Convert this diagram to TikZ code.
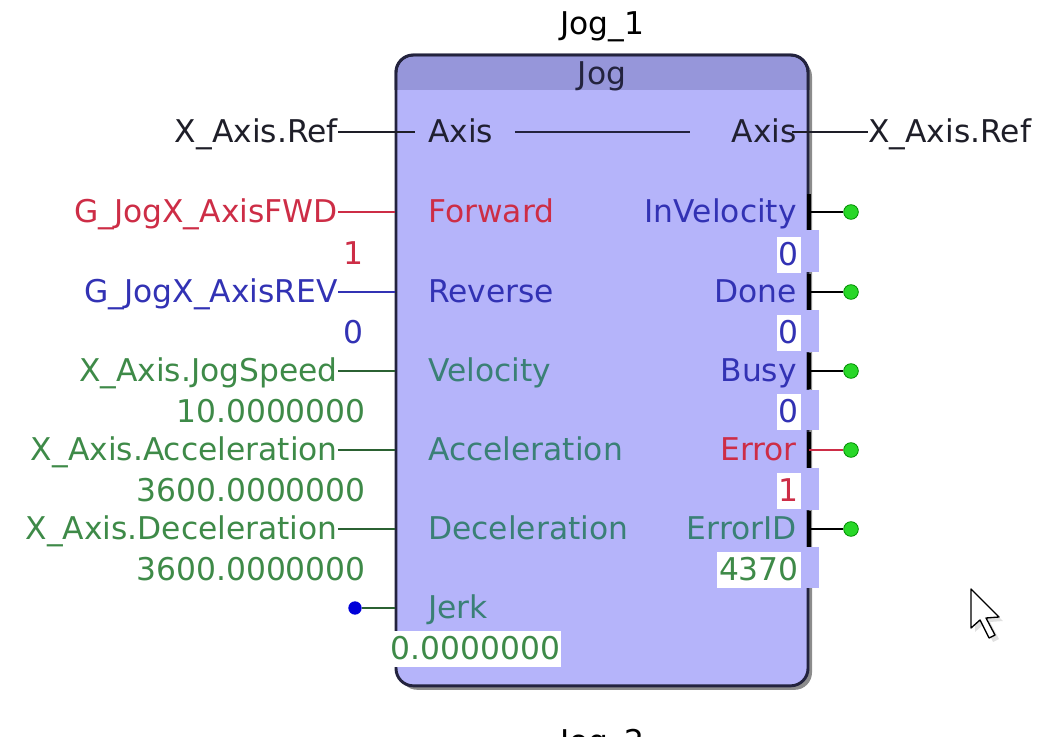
\documentclass[tikz,border=0pt]{standalone}
\usepackage{fontspec}
\setmainfont{DejaVu Sans}
\usetikzlibrary{shadows}
\definecolor{body}{RGB}{181,180,250}
\definecolor{hdr}{RGB}{150,150,218}
\definecolor{frame}{RGB}{35,35,62}
\definecolor{tred}{RGB}{205,45,70}
\definecolor{tblue}{RGB}{50,50,180}
\definecolor{tgreen}{RGB}{62,138,72}
\definecolor{tteal}{RGB}{58,128,118}
\definecolor{tblack}{RGB}{30,30,40}
\definecolor{dotgreen}{RGB}{40,215,40}
\begin{document}
\begin{tikzpicture}[x=0.75pt,y=-0.75pt,
  every node/.style={inner sep=0pt, text height=21pt, text depth=5.6pt,
    font=\fontsize{23.5}{28}\selectfont},
  blockbox/.style={draw=frame, line width=2.2pt, fill=body, rounded corners=13pt,
    minimum width=309pt, minimum height=473pt,
    drop shadow={shadow xshift=3pt, shadow yshift=-3pt, opacity=0.45, fill=black}},
  lblL/.style={anchor=east},
  lblR/.style={anchor=west},
  valbox/.style={anchor=east, fill=white, inner xsep=1.5pt},
  gdot/.style={circle, fill=dotgreen, draw=green!55!black, line width=0.6pt,
    minimum size=11pt, text height=0pt, text depth=0pt, font=\tiny},
  bdot/.style={circle, fill=blue!85!black, minimum size=10pt, text height=0pt, text depth=0pt, font=\tiny},
  portbar/.style={line width=3pt, draw=black},
  wire/.style={line width=1pt}
]
\useasboundingbox (0,0) rectangle (1064,737);
\clip (0,0) rectangle (1064,737);

% block
\node[blockbox] (blk) at (602,370.5) {};
\fill[hdr] (397.5,90) {[rounded corners=12pt] -- (397.5,56.5) -- (806.5,56.5)} -- (806.5,90) -- cycle;
\draw[frame, line width=2.2pt, rounded corners=13pt] (396,90) -- (396,55) -- (808,55) -- (808,90);

% titles
\node[anchor=base] (t1) at (602,35) {Jog\_1};
\node[anchor=base, text=frame] (thdr) at (602,85) {Jog};
\node[anchor=base] (t2) at (602,752) {Jog\_2};

% gaps in right border
\foreach \a/\b in {230/272, 310/352, 390/430, 468/510, 547/588}
  \fill[body] (800,\a) rectangle (819,\b);

% left outer labels
\node[lblL, text=tblack] (inAxis) at (338,132) {X\_Axis.Ref};
\node[lblL, text=tred] (inFwd) at (338,212) {G\_JogX\_AxisFWD};
\node[lblL, text=tblue] (inRev) at (338,292) {G\_JogX\_AxisREV};
\node[lblL, text=tgreen] (inVel) at (338,371) {X\_Axis.JogSpeed};
\node[lblL, text=tgreen] (inAcc) at (338,450) {X\_Axis.Acceleration};
\node[lblL, text=tgreen] (inDec) at (338,529) {X\_Axis.Deceleration};

% left values
\node[lblL, text=tred] (vFwd) at (364,254) {1};
\node[lblL, text=tblue] (vRev) at (364,333) {0};
\node[lblL, text=tgreen] (vVel) at (366,412) {10.0000000};
\node[lblL, text=tgreen] (vAcc) at (366,491) {3600.0000000};
\node[lblL, text=tgreen] (vDec) at (366,570) {3600.0000000};

% inside left labels
\node[lblR, text=tblack!60!frame] (pAxisL) at (428,132) {Axis};
\node[lblR, text=tred] (pFwd) at (428,212) {Forward};
\node[lblR, text=tblue] (pRev) at (428,292) {Reverse};
\node[lblR, text=tteal] (pVel) at (428,371) {Velocity};
\node[lblR, text=tteal] (pAcc) at (428,450) {Acceleration};
\node[lblR, text=tteal] (pDec) at (428,529) {Deceleration};
\node[lblR, text=tteal] (pJerk) at (428,608) {Jerk};
\node[anchor=west, fill=white, inner xsep=1pt, text=tgreen] (vJerk) at (389,649) {0.0000000};

% jerk dot
\node[bdot] (jdot) at (355,608) {};

% inside right labels
\node[lblL, text=tblack!60!frame] (pAxisR) at (797,132) {Axis};
\node[lblL, text=tblue] (pInV) at (797,212) {InVelocity};
\node[lblL, text=tblue] (pDone) at (797,292) {Done};
\node[lblL, text=tblue] (pBusy) at (797,371) {Busy};
\node[lblL, text=tred] (pErr) at (797,450) {Error};
\node[lblL, text=tteal] (pErrID) at (797,529) {ErrorID};

% right values
\node[valbox, text=tblue] (vInV) at (801,255) {0};
\node[valbox, text=tblue] (vDone) at (801,333) {0};
\node[valbox, text=tblue] (vBusy) at (801,412) {0};
\node[valbox, text=tred] (vErr) at (801,491) {1};
\node[valbox, text=tgreen] (vErrID) at (801,570) {4370};

% right outer label
\node[lblR, text=tblack] (outAxis) at (868,132) {X\_Axis.Ref};

% left wires
\draw[wire, tblack] (inAxis.east) -- ([xshift=-10pt]pAxisL.west);
\draw[wire, tred] (inFwd.east) -- (inFwd.east -| blk.west);
\draw[wire, tblue] (inRev.east) -- (inRev.east -| blk.west);
\draw[wire, tgreen!70!black] (inVel.east) -- (inVel.east -| blk.west);
\draw[wire, tgreen!70!black] (inAcc.east) -- (inAcc.east -| blk.west);
\draw[wire, tgreen!70!black] (inDec.east) -- (inDec.east -| blk.west);
\draw[wire, tgreen!70!black] (jdot) -- (jdot -| blk.west);

% axis through line
\draw[wire, frame] ([xshift=16pt]pAxisL.east) -- ([xshift=-31pt]pAxisR.west);
\draw[wire, tblack] ([xshift=-4pt]pAxisR.east) -- (outAxis.west);

% right ports
\foreach \n/\y/\c in {InV/212/black, Done/292/black, Busy/371/black, Err/450/tred, ErrID/529/black}{
  \draw[portbar] (809,\y-18) -- (809,\y+18);
  \node[gdot] (d\n) at (851,\y) {};
  \draw[wire, \c] (809,\y) -- (d\n.west);
}

% cursor
\coordinate (ctip) at (971,589);
\fill[gray!40, opacity=0.6] (975,594) -- (975,632) -- (984,624) -- (993,642) -- (999,639) -- (990,622) -- (1003,621) -- cycle;
\draw[black, fill=white, line width=1pt, line join=round] (ctip) -- (971,628) -- (980,620) -- (989,638) -- (995,635) -- (986,618) -- (999,617) -- cycle;
\end{tikzpicture}
\end{document}
